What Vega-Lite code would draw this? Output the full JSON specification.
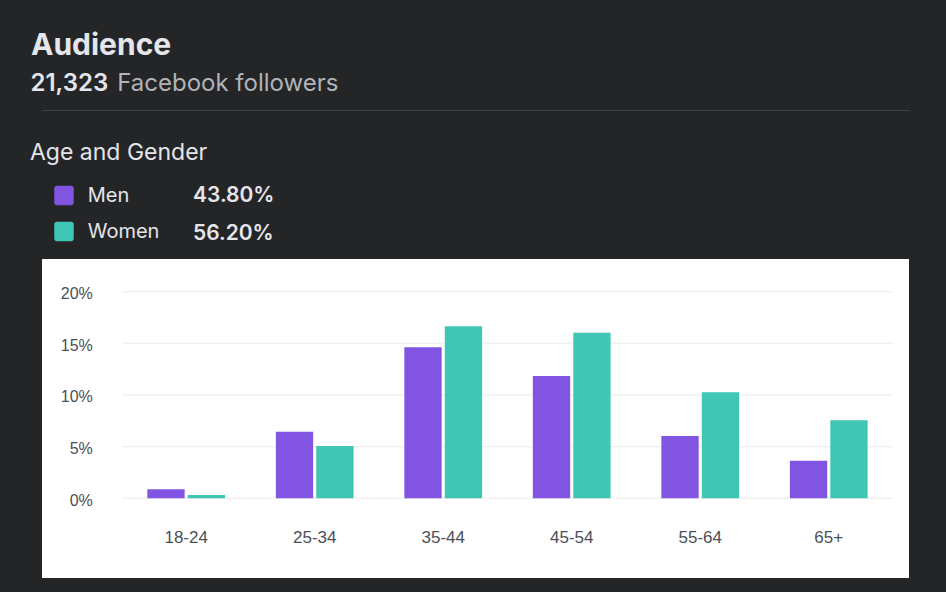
{
  "$schema": "https://vega.github.io/schema/vega-lite/v6.json",
  "width": 867,
  "height": 319,
  "autosize": "none",
  "padding": {"left": 42, "top": 259, "right": 37, "bottom": 14},
  "background": "#242526",
  "config": {"view": {"fill": "#ffffff", "stroke": null}},
  "title": {
    "text": "Audience",
    "anchor": "start",
    "frame": "group",
    "font": "Inter",
    "fontSize": 30,
    "fontWeight": "bold",
    "color": "#e4e6eb",
    "offset": 11,
    "dx": -11
  },
  "datasets": {
    "audience": [
      {"age": "18-24", "gender": "Men", "value": 0.87, "share": "43.80%"},
      {"age": "18-24", "gender": "Women", "value": 0.32, "share": "56.20%"},
      {"age": "25-34", "gender": "Men", "value": 6.45, "share": "43.80%"},
      {"age": "25-34", "gender": "Women", "value": 5.06, "share": "56.20%"},
      {"age": "35-44", "gender": "Men", "value": 14.61, "share": "43.80%"},
      {"age": "35-44", "gender": "Women", "value": 16.65, "share": "56.20%"},
      {"age": "45-54", "gender": "Men", "value": 11.84, "share": "43.80%"},
      {"age": "45-54", "gender": "Women", "value": 16.03, "share": "56.20%"},
      {"age": "55-64", "gender": "Men", "value": 6.03, "share": "43.80%"},
      {"age": "55-64", "gender": "Women", "value": 10.26, "share": "56.20%"},
      {"age": "65+", "gender": "Men", "value": 3.64, "share": "43.80%"},
      {"age": "65+", "gender": "Women", "value": 7.55, "share": "56.20%"}
    ],
    "grid": [
      {"age": "18-24", "v": [0, 5, 10, 15, 20]},
      {"age": "25-34", "v": [0, 5, 10, 15, 20]},
      {"age": "35-44", "v": [0, 5, 10, 15, 20]},
      {"age": "45-54", "v": [0, 5, 10, 15, 20]},
      {"age": "55-64", "v": [0, 5, 10, 15, 20]},
      {"age": "65+", "v": [0, 5, 10, 15, 20]}
    ]
  },
  "layer": [
    {
      "data": {"name": "grid"},
      "transform": [{"flatten": ["v"]}],
      "mark": {"type": "tick", "size": 128.5, "thickness": 1, "color": "#ebebeb", "opacity": 1},
      "encoding": {
        "x": {
          "field": "age",
          "type": "nominal",
          "sort": ["18-24", "25-34", "35-44", "45-54", "55-64", "65+"],
          "scale": {"domain": ["18-24", "25-34", "35-44", "45-54", "55-64", "65+"], "paddingInner": 0.395, "paddingOuter": 0.5707, "align": 0.718},
          "axis": {
            "orient": "top",
            "offset": 149,
            "labels": false,
            "ticks": false,
            "tickSize": 0,
            "grid": false,
            "domain": true,
            "domainColor": "#3e4042",
            "domainWidth": 1,
            "title": "21,323",
            "titleX": -12,
            "titleY": -19.3,
            "titleAlign": "left",
            "titleBaseline": "alphabetic",
            "titleAngle": 0,
            "titleFont": "Inter",
            "titleFontSize": 24,
            "titleFontWeight": 600,
            "titleColor": "#e4e6eb"
          }
        },
        "y": {
          "field": "v",
          "type": "quantitative",
          "scale": {"domain": [-7.71, 23.16], "nice": false, "zero": false},
          "axis": null
        }
      }
    },
    {
      "data": {"name": "audience"},
      "mark": {"type": "bar"},
      "encoding": {
        "x": {
          "field": "age",
          "type": "nominal",
          "sort": ["18-24", "25-34", "35-44", "45-54", "55-64", "65+"],
          "scale": {"domain": ["18-24", "25-34", "35-44", "45-54", "55-64", "65+"], "paddingInner": 0.395, "paddingOuter": 0.5707, "align": 0.718},
          "axis": {
            "orient": "bottom",
            "offset": -35.3,
            "domain": false,
            "ticks": false,
            "tickSize": 0,
            "grid": false,
            "labelPadding": 0,
            "labelAngle": 0,
            "labelBaseline": "alphabetic",
            "labelFont": "Liberation Sans",
            "labelFontSize": 17,
            "labelColor": "#4b4f56",
            "title": null
          }
        },
        "xOffset": {
          "field": "gender",
          "type": "nominal",
          "scale": {"domain": ["Men", "Women"], "paddingInner": 0.0767, "paddingOuter": 0}
        },
        "y": {
          "field": "value",
          "type": "quantitative",
          "scale": {"domain": [-7.71, 23.16], "nice": false, "zero": false},
          "axis": {
            "orient": "left",
            "offset": -50.3,
            "values": [0, 5, 10, 15, 20],
            "labelExpr": "datum.value + '%'",
            "grid": false,
            "domain": false,
            "ticks": false,
            "tickSize": 0,
            "labelPadding": 0,
            "labelOffset": 2,
            "labelFont": "Liberation Sans",
            "labelFontSize": 16,
            "labelColor": "#4b4f56",
            "title": "Facebook followers",
            "titleAngle": 0,
            "titleX": 24.4,
            "titleY": -168.3,
            "titleAlign": "left",
            "titleBaseline": "alphabetic",
            "titleFont": "Inter",
            "titleFontSize": 24,
            "titleFontWeight": "normal",
            "titleColor": "#b0b3b8"
          }
        },
        "y2": {"datum": 0},
        "color": {
          "field": "gender",
          "type": "nominal",
          "scale": {"domain": ["Men", "Women"], "range": ["#8154e1", "#3fc6b4"]},
          "legend": {
            "orient": "none",
            "legendX": -12,
            "legendY": -117.2,
            "padding": 0,
            "title": "Age and Gender",
            "titleFont": "Inter",
            "titleFontSize": 23,
            "titleFontWeight": "normal",
            "titleColor": "#e4e6eb",
            "titlePadding": 20.7,
            "symbolType": "M-0.7,-1H0.7Q1,-1,1,-0.7V0.7Q1,1,0.7,1H-0.7Q-1,1,-1,0.7V-0.7Q-1,-1,-0.7,-1Z",
            "symbolSize": 380,
            "symbolStrokeWidth": 0,
            "symbolOpacity": 1,
            "symbolOffset": 24,
            "labelOffset": 13.7,
            "labelFont": "Inter",
            "labelFontSize": 20,
            "labelColor": "#e4e6eb",
            "rowPadding": 16
          }
        },
        "opacity": {
          "field": "share",
          "type": "ordinal",
          "scale": {"domain": ["43.80%", "56.20%"], "range": [1, 1]},
          "legend": {
            "orient": "none",
            "legendX": 130,
            "legendY": -73.5,
            "padding": 0,
            "title": null,
            "symbolType": "square",
            "symbolSize": 380,
            "symbolStrokeWidth": 0,
            "symbolFillColor": "transparent",
            "symbolStrokeColor": "transparent",
            "labelOffset": 0,
            "labelFont": "Inter",
            "labelFontSize": 21,
            "labelFontWeight": 600,
            "labelColor": "#e4e6eb",
            "rowPadding": 16,
            "encode": {
              "symbols": {
                "update": {
                  "fill": {"value": "transparent"},
                  "stroke": {"value": "transparent"},
                  "opacity": {"value": 0}
                }
              }
            }
          }
        }
      }
    }
  ],
  "resolve": {"axis": {"x": "independent", "y": "independent"}}
}
